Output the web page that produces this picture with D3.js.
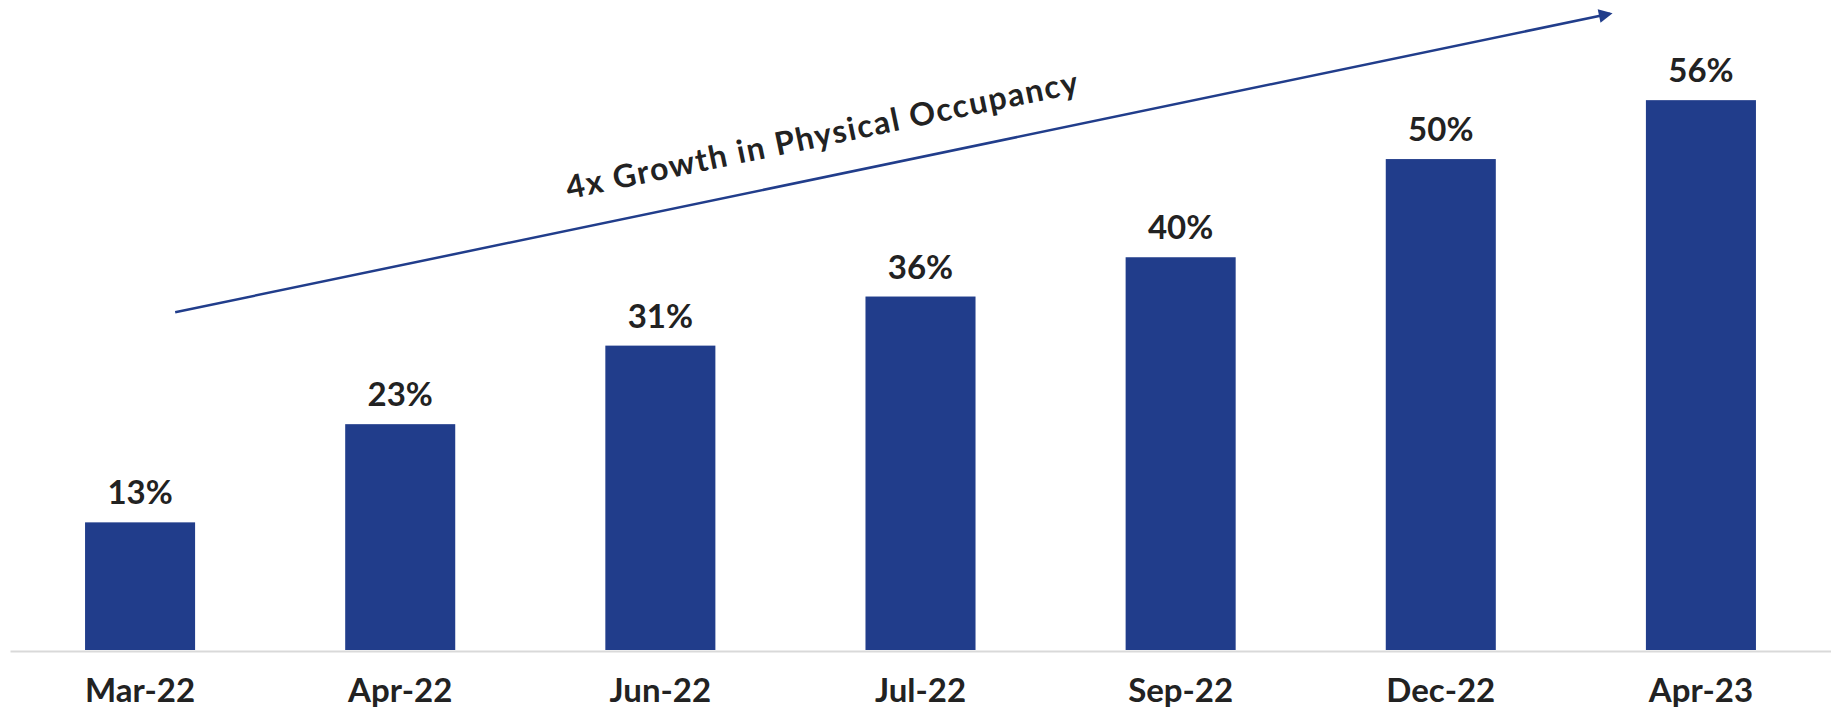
<!DOCTYPE html>
<html>
<head>
<meta charset="utf-8">
<script src="https://cdn.jsdelivr.net/npm/d3@7"></script>
<style>
  body { margin: 0; background: #fff; }
  svg { display: block; }
  text { font-family: Lato, "Open Sans", sans-serif; font-weight: 700; fill: #222; }
</style>
</head>
<body>
<svg id="chart" width="1831" height="709"></svg>
<script>
const months = ["Mar-22", "Apr-22", "Jun-22", "Jul-22", "Sep-22", "Dec-22", "Apr-23"];
const occupancy = [13, 23, 31, 36, 40, 50, 56];
const arrowLabel = "4x Growth in Physical Occupancy";
// arrow ends in chart units: [band index, value]
const arrowFrom = [0.135, 34.4];
const arrowTo = [5.65, 64.8];

const svg = d3.select("#chart");
const width = +svg.attr("width");
const baseY = 650;

const x = d3.scaleBand()
  .domain(months)
  .range([10, width])
  .paddingInner(0.577)
  .paddingOuter(0.2885);

const y = d3.scaleLinear()
  .domain([0, 66.2])
  .range([baseY, 0]);

const xAt = i => x(months[0]) + x.bandwidth() / 2 + i * x.step();

svg.append("g")
  .selectAll("rect")
  .data(occupancy)
  .join("rect")
  .attr("x", (d, i) => x(months[i]))
  .attr("y", d => y(d))
  .attr("width", x.bandwidth())
  .attr("height", d => baseY - y(d))
  .attr("fill", "#213d8b");

svg.append("g")
  .selectAll("text")
  .data(occupancy)
  .join("text")
  .attr("x", (d, i) => x(months[i]) + x.bandwidth() / 2)
  .attr("y", d => y(d) - 18)
  .attr("text-anchor", "middle")
  .style("font-size", "33px")
  .text(d => d + "%");

const xAxis = svg.append("g")
  .attr("transform", `translate(0,${baseY + 1})`)
  .call(d3.axisBottom(x).tickSize(0).tickPadding(28));
xAxis.select(".domain").attr("stroke", "#d9d9d9").attr("stroke-width", 2);
xAxis.selectAll("text").style("font-size", "33px").attr("fill", "#222");

// growth arrow
const defs = svg.append("defs");
defs.append("marker")
  .attr("id", "head")
  .attr("viewBox", "0 0 10 10")
  .attr("refX", 8)
  .attr("refY", 5)
  .attr("markerWidth", 6.5)
  .attr("markerHeight", 5.5)
  .attr("markerUnits", "strokeWidth")
  .attr("orient", "auto")
  .append("path")
  .attr("d", "M0,0L10,5L0,10Z")
  .attr("fill", "#213d8b");

const x1 = xAt(arrowFrom[0]), y1 = y(arrowFrom[1]);
const x2 = xAt(arrowTo[0]), y2 = y(arrowTo[1]);
svg.append("line")
  .attr("x1", x1).attr("y1", y1)
  .attr("x2", x2).attr("y2", y2)
  .attr("stroke", "#213d8b")
  .attr("stroke-width", 2.5)
  .attr("marker-end", "url(#head)");

const angle = Math.atan2(y2 - y1, x2 - x1) * 180 / Math.PI;
svg.append("text")
  .attr("transform", `translate(824,146) rotate(${angle})`)
  .attr("text-anchor", "middle")
  .attr("textLength", 522)
  .attr("lengthAdjust", "spacing")
  .style("font-size", "32px")
  .text(arrowLabel);
</script>
</body>
</html>
